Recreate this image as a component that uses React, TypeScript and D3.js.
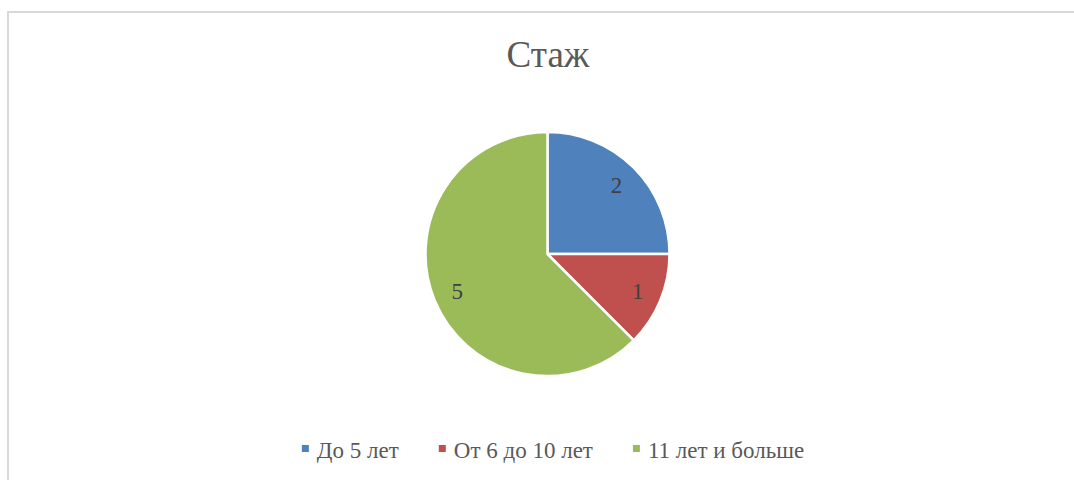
import React, { useRef, useEffect } from "react";
import * as d3 from "d3";

// data
const categories = ["До 5 лет", "От 6 до 10 лет", "11 лет и больше"];
const values = [2, 1, 5];
const colors = ["#4F81BD", "#C0504D", "#9BBB59"];
const title = "Стаж";

const W = 1074,
  H = 480;

export default function App() {
  const ref = useRef<SVGSVGElement>(null);

  useEffect(() => {
    const svg = d3.select(ref.current);
    svg.selectAll("*").remove();

    // chart area border (cut off at right and bottom)
    svg
      .append("rect")
      .attr("x", 8)
      .attr("y", 12)
      .attr("width", W + 20)
      .attr("height", H + 20)
      .attr("fill", "#fff")
      .attr("stroke", "#d9d9d9")
      .attr("stroke-width", 2);

    svg
      .append("text")
      .attr("x", 548)
      .attr("y", 67)
      .attr("text-anchor", "middle")
      .style("font-family", "'Liberation Serif', 'Times New Roman', serif")
      .style("font-size", "37px")
      .attr("fill", "#595959")
      .text(title);

    const cx = 547.5,
      cy = 254,
      r = 122;

    const pie = d3
      .pie<number>()
      .sort(null)
      .value((d) => d);
    const arcs = pie(values);
    const arc = d3.arc<d3.PieArcDatum<number>>().innerRadius(0).outerRadius(r);
    const labelArc = d3
      .arc<d3.PieArcDatum<number>>()
      .innerRadius(r * 0.8)
      .outerRadius(r * 0.8);

    const g = svg.append("g").attr("transform", `translate(${cx},${cy})`);
    g.selectAll("path")
      .data(arcs)
      .join("path")
      .attr("d", arc)
      .attr("fill", (_, i) => colors[i])
      .attr("stroke", "#fff")
      .attr("stroke-width", 2.5)
      .attr("stroke-linejoin", "round");

    g.selectAll("text")
      .data(arcs)
      .join("text")
      .attr("transform", (d) => `translate(${labelArc.centroid(d)})`)
      .attr("text-anchor", "middle")
      .attr("dy", "0.35em")
      .style("font-family", "'Liberation Serif', 'Times New Roman', serif")
      .style("font-size", "23px")
      .attr("fill", "#404040")
      .text((d) => String(d.data));

    // legend, centred from measured text widths
    const legend = svg.append("g");
    const items = legend
      .selectAll("g")
      .data(categories)
      .join("g");
    items
      .append("rect")
      .attr("width", 7)
      .attr("height", 7)
      .attr("y", -13)
      .attr("fill", (_, i) => colors[i]);
    const texts = items
      .append("text")
      .attr("x", 15)
      .style("font-family", "'Liberation Serif', 'Times New Roman', serif")
      .style("font-size", "23px")
      .attr("fill", "#595959")
      .text((d) => d);

    const widths: number[] = [];
    texts.each(function () {
      widths.push((this as SVGTextElement).getComputedTextLength());
    });
    const gap = 40;
    let x = 0;
    const offs: number[] = [];
    widths.forEach((w) => {
      offs.push(x);
      x += 15 + w + gap;
    });
    const total = x - gap;
    const start = 553 - total / 2;
    items.attr("transform", (_, i) => `translate(${start + offs[i]},458)`);
  }, []);

  return (
    <svg
      ref={ref}
      width={W}
      height={H}
      style={{ position: "absolute", left: 0, top: 0 }}
    />
  );
}
